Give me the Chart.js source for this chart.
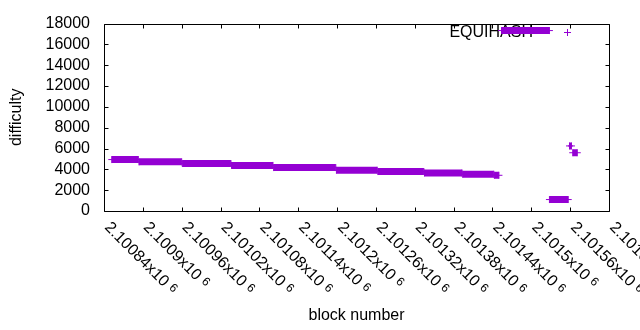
<!DOCTYPE html>
<html><head><meta charset="utf-8">
<script src="https://cdn.jsdelivr.net/npm/chart.js@4"></script>
<style>html,body{margin:0;padding:0;background:#fff;}#wrap{width:640px;height:330px;}</style>
</head><body><div id="wrap"><canvas id="c" width="640" height="330"></canvas></div>
<script>
const seriesName = 'EQUIHASH';
// runs of consecutive blocks with (nearly) constant difficulty
const runStart = [2100852, 2100894, 2100961, 2101037, 2101102, 2101199, 2101263, 2101335, 2101394, 2101443, 2101454, 2101528, 2101559, 2101564];
const runEnd   = [2100893, 2100960, 2101036, 2101101, 2101198, 2101262, 2101334, 2101393, 2101442, 2101450, 2101528, 2101557, 2101562, 2101571];
const runValue = [4940, 4720, 4560, 4380, 4170, 3915, 3790, 3650, 3530, 3430, 17330, 1100, 6250, 5595];
const xTickValues = [2100840, 2100900, 2100960, 2101020, 2101080, 2101140, 2101200, 2101260, 2101320, 2101380, 2101440, 2101500, 2101560, 2101620];
const xTickLabels = ['2.10084','2.1009','2.10096','2.10102','2.10108','2.10114','2.1012','2.10126','2.10132','2.10138','2.10144','2.1015','2.10156','2.10162'];
const xTickExponent = '6';
const yTickValues = [0, 2000, 4000, 6000, 8000, 10000, 12000, 14000, 16000, 18000];
const xTitle = 'block number';
const yTitle = 'difficulty';

const PURPLE = '#9400d3';
const FONT = '"Liberation Sans", Arial, sans-serif';

const points = [];
for (let i = 0; i < runStart.length; i++) {
  points.push({x: runStart[i], y: runValue[i]});
  points.push({x: runEnd[i], y: runValue[i]});
}

const gnuplotLook = {
  id: 'gnuplotLook',
  beforeDatasetsDraw(chart) {
    const ctx = chart.ctx;
    const a = chart.chartArea;
    const xs = chart.scales.x, ys = chart.scales.y;
    const L = Math.round(a.left) + 0.5, R = Math.round(a.right) + 0.5;
    const T = Math.round(a.top) + 0.5, B = Math.round(a.bottom) + 0.5;
    ctx.save();
    ctx.strokeStyle = '#000';
    ctx.lineWidth = 1;
    ctx.beginPath();
    ctx.rect(L, T, R - L, B - T);
    const tl = 4;
    yTickValues.forEach(v => {
      const py = Math.round(ys.getPixelForValue(v)) + 0.5;
      ctx.moveTo(L, py); ctx.lineTo(L + tl, py);
      ctx.moveTo(R, py); ctx.lineTo(R - tl, py);
    });
    xTickValues.forEach(v => {
      const px = Math.round(xs.getPixelForValue(v)) + 0.5;
      ctx.moveTo(px, B); ctx.lineTo(px, B - tl);
      ctx.moveTo(px, T); ctx.lineTo(px, T + tl);
    });
    ctx.stroke();

    // x tick labels rotated by -45 (down-right)
    ctx.fillStyle = '#000';
    xTickValues.forEach((v, i) => {
      const px = xs.getPixelForValue(v);
      ctx.save();
      ctx.translate(px + 3, 225);
      ctx.rotate(Math.PI / 4);
      ctx.font = '16px ' + FONT;
      ctx.textAlign = 'left';
      ctx.textBaseline = 'middle';
      const main = xTickLabels[i] + 'x10';
      ctx.fillText(main, 0, 0);
      const w = ctx.measureText(main).width;
      ctx.font = '12px ' + FONT;
      ctx.fillText(xTickExponent, w + 4.5, -2);
      ctx.restore();
    });

    // axis titles
    ctx.font = '16px ' + FONT;
    ctx.textAlign = 'center';
    ctx.textBaseline = 'alphabetic';
    ctx.fillText(xTitle, (a.left + a.right) / 2, 320);
    ctx.save();
    ctx.translate(17, (a.top + a.bottom) / 2);
    ctx.rotate(-Math.PI / 2);
    ctx.textBaseline = 'middle';
    ctx.fillText(yTitle, 0, 0);
    ctx.restore();

    // key
    ctx.textAlign = 'right';
    ctx.textBaseline = 'alphabetic';
    ctx.fillText(seriesName, 533, 37);
    ctx.strokeStyle = PURPLE;
    ctx.beginPath();
    ctx.moveTo(564, 32.5); ctx.lineTo(571, 32.5);
    ctx.moveTo(567.5, 29); ctx.lineTo(567.5, 36);
    ctx.stroke();
    ctx.restore();
  }
};

new Chart(document.getElementById('c'), {
  type: 'line',
  data: {
    datasets: [{
      label: seriesName,
      data: points,
      borderColor: PURPLE,
      backgroundColor: PURPLE,
      borderWidth: 7,
      borderCapStyle: 'butt',
      fill: false,
      tension: 0,
      pointStyle: 'cross',
      pointRadius: 3.5,
      pointBorderWidth: 1,
      pointBorderColor: PURPLE,
      pointBackgroundColor: PURPLE,
      pointHoverRadius: 3.5,
      segment: {
        borderColor: c => (c.p0.parsed.y === c.p1.parsed.y ? PURPLE : 'rgba(0,0,0,0)')
      }
    }]
  },
  options: {
    responsive: false,
    animation: false,
    devicePixelRatio: 1,
    events: [],
    layout: { padding: { top: 19, right: 31, left: 0, bottom: 0 } },
    plugins: { legend: { display: false }, tooltip: { enabled: false } },
    scales: {
      x: {
        type: 'linear',
        min: xTickValues[0],
        max: xTickValues[xTickValues.length - 1],
        afterBuildTicks: s => { s.ticks = xTickValues.map(v => ({ value: v })); },
        afterFit: s => { s.height = 119; },
        ticks: { display: false },
        grid: { display: false, drawTicks: false },
        border: { display: false }
      },
      y: {
        type: 'linear',
        min: 0,
        max: 18000,
        afterBuildTicks: s => { s.ticks = yTickValues.map(v => ({ value: v })); },
        afterFit: s => { s.width = 104; },
        ticks: {
          padding: 14,
          color: '#000',
          autoSkip: false,
          font: { family: FONT, size: 16 },
          callback: v => String(v)
        },
        grid: { display: false, drawTicks: false },
        border: { display: false }
      }
    }
  },
  plugins: [gnuplotLook]
});
</script>
</body></html>
